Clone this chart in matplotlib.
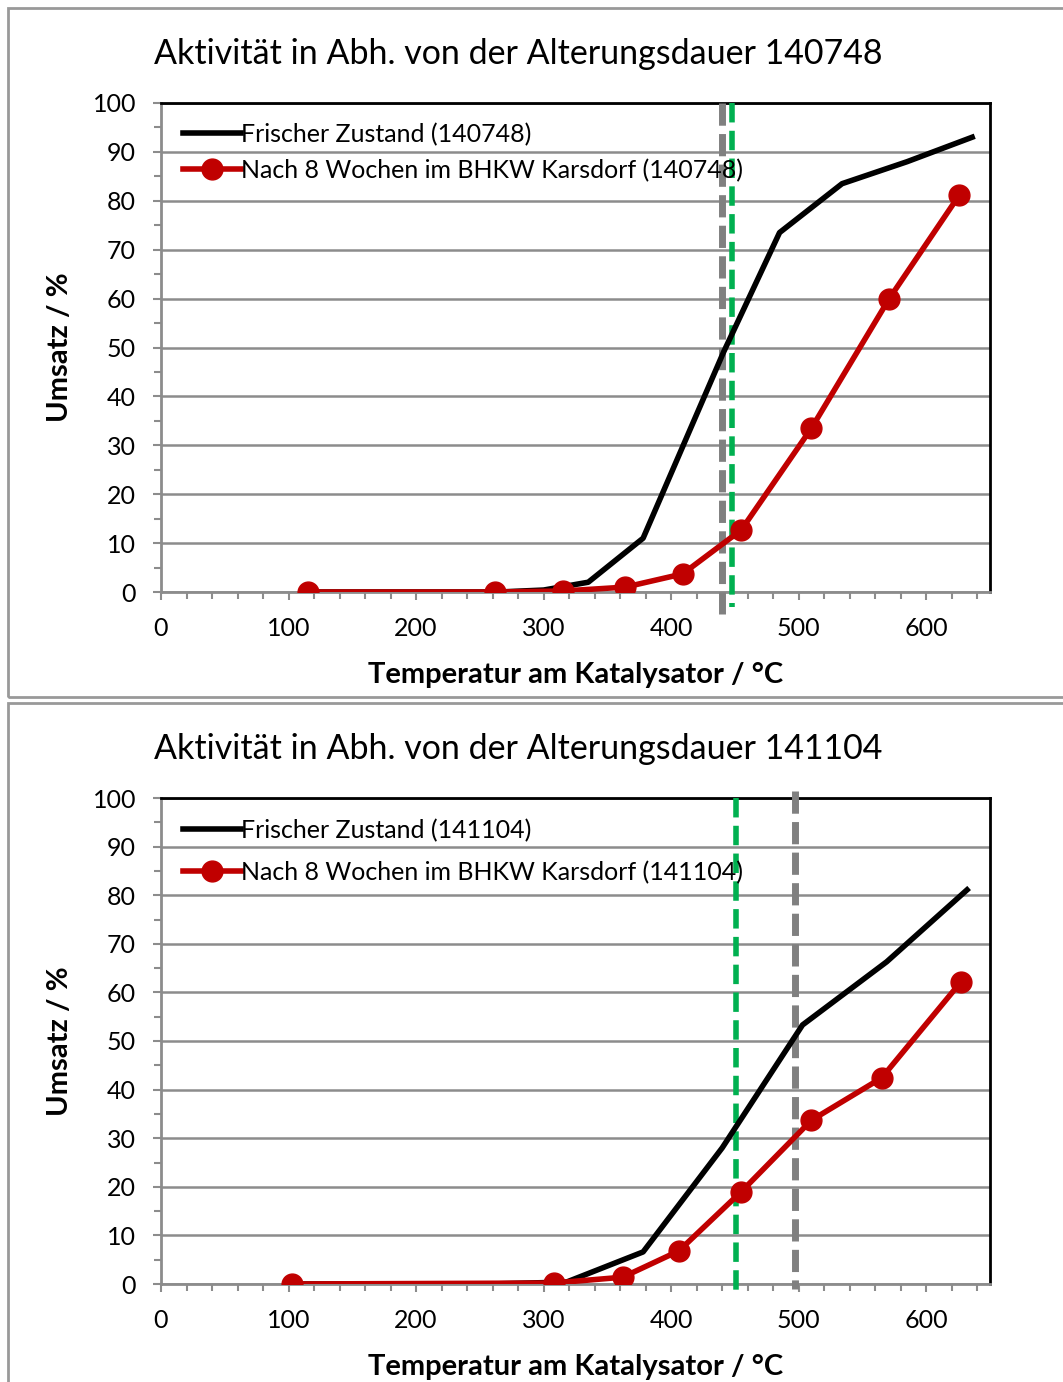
import matplotlib.pyplot as plt
from matplotlib.patches import Rectangle
from matplotlib.ticker import MultipleLocator

plt.rcParams['font.family'] = ['Lato', 'DejaVu Sans']

# --- chart 1: 140748
fresh1_x = [115, 265, 300, 335, 378, 441, 485, 534, 585, 636]
fresh1_y = [0, 0, 0.4, 2, 11, 49, 73.5, 83.5, 88, 93]
aged1_x = [115, 262, 315, 364, 409, 455, 510, 571, 626]
aged1_y = [0, 0, 0.2, 1, 3.7, 12.7, 33.5, 60, 81.2]
gray1_x, green1_x = 440, 448

# --- chart 2: 141104
fresh2_x = [103, 258, 318, 378, 440, 503, 569, 632]
fresh2_y = [0, 0, 0.4, 6.6, 28, 53.3, 66.3, 81.1]
aged2_x = [103, 308, 362, 406, 455, 510, 565, 627]
aged2_y = [0, 0.2, 1.4, 6.8, 19, 33.7, 42.4, 62.1]
gray2_x, green2_x = 497, 451

W, H = 1063, 1382
fig = plt.figure(figsize=(W / 100, H / 100), dpi=100)

# panel frames
for (y0, y1) in [(8, 697), (703, 1390)]:
    fig.add_artist(Rectangle((8 / W, 1 - y1 / H), (W + 10 - 8) / W, (y1 - y0) / H,
                             transform=fig.transFigure, fill=False,
                             edgecolor='#999999', lw=2, clip_on=False))


def panel(top, bottom, title, title_y, fx, fy, ax_, ay_, gx, grx, name,
          gray_ext, green_ext, leg_spacing, leg_top):
    ax = fig.add_axes([161 / W, 1 - bottom / H, (990 - 161) / W, (bottom - top) / H])
    ax.set_xlim(0, 650)
    ax.set_ylim(0, 100)
    ax.yaxis.set_major_locator(MultipleLocator(10))
    ax.yaxis.set_minor_locator(MultipleLocator(5))
    ax.xaxis.set_major_locator(MultipleLocator(100))
    ax.xaxis.set_minor_locator(MultipleLocator(20))
    ax.grid(axis='y', which='major', color='#8c8c8c', lw=1.8)
    ax.set_axisbelow(True)
    for s in ['top', 'right']:
        ax.spines[s].set_color('black')
        ax.spines[s].set_linewidth(2)
    for s in ['left', 'bottom']:
        ax.spines[s].set_color('#8c8c8c')
        ax.spines[s].set_linewidth(2)
    ax.tick_params(which='both', direction='out', color='#8c8c8c', width=1.5, labelsize=18, length=6)
    ax.tick_params(axis='x', which='major', pad=12)
    ax.tick_params(axis='y', which='major', pad=12)
    ax.tick_params(which='minor', length=5)

    ax.plot([gx, gx], gray_ext, color='#808080', lw=5, ls=(0, (3.2, 1.2)), clip_on=False, zorder=3)
    ax.plot([grx, grx], green_ext, color='#00b050', lw=4, ls=(0, (3.5, 1.5)), clip_on=False, zorder=3)
    ax.plot(fx, fy, color='black', lw=4, label='Frischer Zustand (%s)' % name, zorder=4)
    ax.plot(ax_, ay_, color='#c00000', lw=4, marker='o', markersize=15,
            label='Nach 8 Wochen im BHKW Karsdorf (%s)' % name, zorder=5)

    ax.set_ylabel('Umsatz / %', fontsize=21, fontweight='bold', labelpad=14)
    ax.set_xlabel('Temperatur am Katalysator / °C', fontsize=21, fontweight='bold', labelpad=16)
    fig.text(518 / W, 1 - title_y / H, title, fontsize=24.5, ha='center', va='center')
    ax.legend(loc='upper left', frameon=False, fontsize=18, handlelength=2.3,
              handletextpad=0.0, borderaxespad=0.0, labelspacing=leg_spacing,
              bbox_to_anchor=(0.015, leg_top))
    return ax


panel(103, 592, 'Aktivität in Abh. von der Alterungsdauer 140748', 54,
      fresh1_x, fresh1_y, aged1_x, aged1_y, gray1_x, green1_x, '140748',
      [100, -4.5], [100, -3], 0.5, 0.98)
panel(798, 1284, 'Aktivität in Abh. von der Alterungsdauer 141104', 749,
      fresh2_x, fresh2_y, aged2_x, aged2_y, gray2_x, green2_x, '141104',
      [101.5, -1], [100, -2], 0.75, 0.978)

fig.savefig('out.png', dpi=100)
